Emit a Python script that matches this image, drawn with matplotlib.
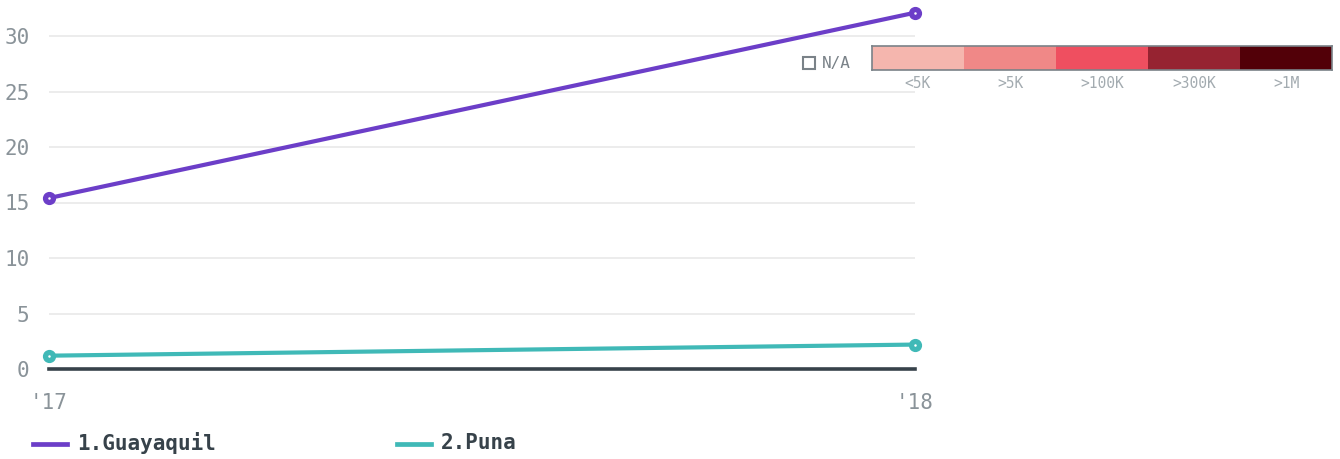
import matplotlib
matplotlib.use("Agg")
import matplotlib.pyplot as plt
import numpy as np

# data
years = ["'17", "'18"]
guayaquil = [15.4, 32.1]
puna = [1.2, 2.2]
series_names = ["1.Guayaquil", "2.Puna"]
series_colors = ["#6c3ec8", "#40b9b7"]

legend_bins = ["<5K", ">5K", ">100K", ">300K", ">1M"]
legend_colors = ["#f5b6ae", "#f08887", "#ef4f60", "#962331", "#520008"]

W, H = 1340, 459
fig = plt.figure(figsize=(W / 100, H / 100), dpi=100)
plt.rcParams['font.family'] = ['DejaVu Sans Mono', 'DejaVu Sans']

# main axes: x from 49 to 915 px, y from 0 (top) to 369 px (zero)
ax = fig.add_axes([49 / W, (H - 369) / H, (915 - 49) / W, 369 / H])
x = np.arange(len(years))
ax.set_xlim(0, 1)
ax.set_ylim(0, 369 / 11.1)

for v in [5, 10, 15, 20, 25, 30]:
    ax.axhline(v, color="#ebebeb", lw=1.3, zorder=0)
ax.axhline(0, color="#37424a", lw=2.6, zorder=1, clip_on=False)

for vals, c in zip([guayaquil, puna], series_colors):
    ax.plot(x, vals, color=c, lw=3, zorder=3, clip_on=False,
            marker="o", ms=8.5, mfc=c, mec=c)
    ax.plot(x, vals, ls="none", marker="o", ms=1.8, mfc="white", mew=0,
            zorder=4, clip_on=False)

for s in ax.spines.values():
    s.set_visible(False)
ax.set_xticks(x)
ax.set_xticklabels(years)
ax.set_yticks([0, 5, 10, 15, 20, 25, 30])
ax.tick_params(axis="both", length=0, labelsize=15, colors="#8a9399")
ax.tick_params(axis="y", pad=14)
ax.tick_params(axis="x", pad=17)

# legend below
legend_x = [33, 397]
for x0, name, c in zip(legend_x, series_names, series_colors):
    fig.add_artist(plt.Line2D([x0 / W, (x0 + 34) / W], [1 - 444 / H, 1 - 444 / H],
                              color=c, lw=3.4))
    fig.text((x0 + 44) / W, 1 - 443 / H, name, fontsize=15, fontweight="bold",
             color="#37424a", va="center", ha="left")

# colour scale legend
ax2 = fig.add_axes([872 / W, (H - 70) / H, 460 / W, 24 / H])
ax2.bar(np.arange(len(legend_bins)), [1] * len(legend_bins), width=1.0,
        color=legend_colors, align="edge")
ax2.set_xlim(0, len(legend_bins))
ax2.set_ylim(0, 1)
ax2.set_xticks(np.arange(len(legend_bins)) + 0.5)
ax2.set_xticklabels(legend_bins)
ax2.set_yticks([])
ax2.tick_params(axis="x", length=0, labelsize=10.5, colors="#a3abb0", pad=4)
for s in ax2.spines.values():
    s.set_color("#7a8288")
    s.set_linewidth(1.2)

# N/A box
fig.add_artist(plt.Rectangle((803 / W, 1 - 69 / H), 12 / W, 12 / H,
                             fill=False, ec="#7a8288", lw=1.5))
fig.text(822 / W, 1 - 63.5 / H, "N/A", fontsize=11.5, color="#7a8288",
         va="center", ha="left")

fig.savefig("out.png", dpi=100)
